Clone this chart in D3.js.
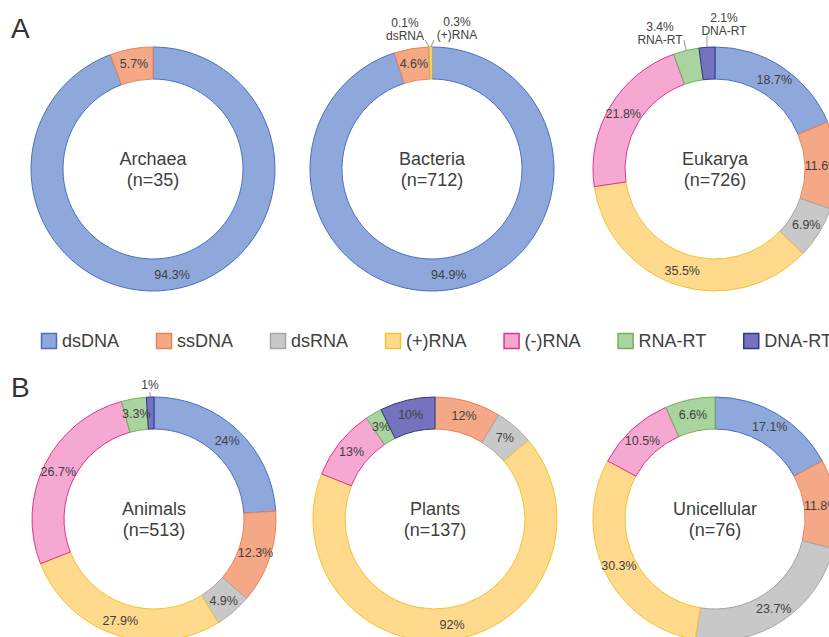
<!DOCTYPE html>
<html>
<head>
<meta charset="utf-8">
<script src="https://cdn.jsdelivr.net/npm/d3@7"></script>
<style>
  body { margin: 0; background: #fff; }
  text { font-family: Arial, "Liberation Sans", sans-serif; fill: #404040; }
</style>
</head>
<body>
<svg id="chart" width="829" height="637"></svg>
<script>
// virus genome types, clockwise from 12 o'clock
const categories = ["dsDNA", "ssDNA", "dsRNA", "(+)RNA", "(-)RNA", "RNA-RT", "DNA-RT"];

const groups = ["Archaea", "Bacteria", "Eukarya", "Animals", "Plants", "Unicellular"];
const groupN = [35, 712, 726, 513, 137, 76];

// shares per group, same order as categories (Plants shown as counts in the original)
const archaea     = [94.3, 5.7, 0, 0, 0, 0, 0];
const bacteria    = [94.9, 4.6, 0.1, 0.3, 0, 0, 0];
const eukarya     = [18.7, 11.6, 6.9, 35.5, 21.8, 3.4, 2.1];
const animals     = [24, 12.3, 4.9, 27.9, 26.7, 3.3, 1];
const plants      = [0, 12, 7, 92, 13, 3, 10];
const unicellular = [17.1, 11.8, 23.7, 30.3, 10.5, 6.6, 0];

const groupValues = [archaea, bacteria, eukarya, animals, plants, unicellular];

const fills   = ["#8ea8dc", "#f5a886", "#c8c8c8", "#ffd98c", "#f5a9d2", "#a9d4a0", "#7573bd"];
const strokes = ["#4a6fbf", "#ea8255", "#a6a6a6", "#f2c331", "#e0338f", "#74b05a", "#2f3886"];

const color = d3.scaleOrdinal().domain(categories).range(fills);
const edge  = d3.scaleOrdinal().domain(categories).range(strokes);

const svg = d3.select("#chart");

// donut centres
const centers = [
	{x: 153, y: 169}, {x: 432, y: 169}, {x: 715, y: 169},
	{x: 154, y: 519}, {x: 435, y: 519}, {x: 715, y: 519}
];

const R = 122, r = 90;
const arc = d3.arc().innerRadius(r).outerRadius(R);
const labelArc = d3.arc().innerRadius((R + r) / 2 + 1).outerRadius((R + r) / 2 + 1);
const pie = d3.pie().sort(null).value(d => d.v);

// small slices labelled outside the ring: text offset and leader start, relative to centre
const callouts = {
	"Bacteria|dsRNA":  {tx: -27, ty: -142, lx: -7, ly: -129, two: true},
	"Bacteria|(+)RNA": {tx: 25,  ty: -143, lx: 2,  ly: -129, two: true},
	"Eukarya|RNA-RT":  {tx: -55, ty: -138, lx: -31, ly: -129, two: true},
	"Eukarya|DNA-RT":  {tx: 9,   ty: -147, lx: -8, ly: -133, two: true},
	"Animals|DNA-RT":  {tx: -4,  ty: -130, lx: -4, ly: -127, two: false}
};

groups.forEach(function(name, gi)
{
	var c = centers[gi];
	var g = svg.append("g").attr("transform", "translate(" + c.x + "," + c.y + ")");
	var rows = groupValues[gi].map((v, i) => ({cat: categories[i], v: v}));
	var arcs = pie(rows).filter(d => d.data.v > 0);

	g.selectAll("path.slice")
		.data(arcs)
		.enter()
		.append("path").classed("slice", true)
			.attr("d", arc)
			.attr("fill", d => color(d.data.cat))
			.attr("stroke", d => edge(d.data.cat))
			.attr("stroke-width", 1);

	arcs.forEach(function(d)
	{
		var txt = d.data.v + "%";
		var co = callouts[name + "|" + d.data.cat];
		if( co )
		{
			var mid = (d.startAngle + d.endAngle) / 2;
			var ex = R * Math.sin(mid), ey = -R * Math.cos(mid);
			g.append("line")
				.attr("x1", co.lx).attr("y1", co.ly)
				.attr("x2", ex).attr("y2", ey)
				.attr("stroke", "#7f7f7f").attr("stroke-width", 0.8);
			var t = g.append("text")
				.attr("text-anchor", "middle")
				.attr("font-size", 12);
			t.append("tspan").attr("x", co.tx).attr("y", co.ty).text(txt);
			if( co.two )
				t.append("tspan").attr("x", co.tx).attr("y", co.ty + 13).text(d.data.cat);
			return;
		}
		var p = labelArc.centroid(d);
		g.append("text")
			.attr("x", p[0]).attr("y", p[1])
			.attr("dy", "0.35em")
			.attr("text-anchor", "middle")
			.attr("font-size", 12.5)
			.text(txt);
	});

	var title = g.append("text")
		.attr("text-anchor", "middle")
		.attr("font-size", 18);
	title.append("tspan").attr("x", 0).attr("y", -4).text(name);
	title.append("tspan").attr("x", 0).attr("y", 17).text("(n=" + groupN[gi] + ")");
});

// panel letters
svg.append("text").attr("x", 11).attr("y", 38).attr("font-size", 28).style("fill", "#333").text("A");
svg.append("text").attr("x", 11).attr("y", 397).attr("font-size", 28).style("fill", "#333").text("B");

// legend
var lx = 41;
categories.forEach(function(cat)
{
	var item = svg.append("g").attr("transform", "translate(" + lx + ",333)");
	item.append("rect")
		.attr("x", 0.5).attr("y", 0.5)
		.attr("width", 15).attr("height", 15)
		.attr("fill", color(cat))
		.attr("stroke", edge(cat)).attr("stroke-width", 1.5);
	var t = item.append("text")
		.attr("x", 21).attr("y", 14)
		.attr("font-size", 18)
		.text(cat);
	lx += 21 + t.node().getComputedTextLength() + 37;
});
</script>
</body>
</html>
